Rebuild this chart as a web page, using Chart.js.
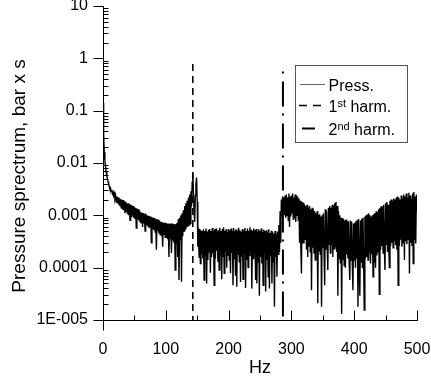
<!DOCTYPE html>
<html><head><meta charset="utf-8">
<style>html,body{margin:0;padding:0;background:#fff;}#wrap{width:431px;height:379px;}</style>
<script src="https://cdn.jsdelivr.net/npm/chart.js@4.4.1/dist/chart.umd.min.js"></script>
</head><body><div id="wrap"><canvas id="c" width="431" height="379"></canvas></div>
<script>
// ---- data (1 Hz bins) ----
const freqHz = [
  0,1,2,3,4,5,6,7,8,9,
  10,11,12,13,14,15,16,17,18,19,
  20,21,22,23,24,25,26,27,28,29,
  30,31,32,33,34,35,36,37,38,39,
  40,41,42,43,44,45,46,47,48,49,
  50,51,52,53,54,55,56,57,58,59,
  60,61,62,63,64,65,66,67,68,69,
  70,71,72,73,74,75,76,77,78,79,
  80,81,82,83,84,85,86,87,88,89,
  90,91,92,93,94,95,96,97,98,99,
  100,101,102,103,104,105,106,107,108,109,
  110,111,112,113,114,115,116,117,118,119,
  120,121,122,123,124,125,126,127,128,129,
  130,131,132,133,134,135,136,137,138,139,
  140,141,142,143,144,145,146,147,148,149,
  150,151,152,153,154,155,156,157,158,159,
  160,161,162,163,164,165,166,167,168,169,
  170,171,172,173,174,175,176,177,178,179,
  180,181,182,183,184,185,186,187,188,189,
  190,191,192,193,194,195,196,197,198,199,
  200,201,202,203,204,205,206,207,208,209,
  210,211,212,213,214,215,216,217,218,219,
  220,221,222,223,224,225,226,227,228,229,
  230,231,232,233,234,235,236,237,238,239,
  240,241,242,243,244,245,246,247,248,249,
  250,251,252,253,254,255,256,257,258,259,
  260,261,262,263,264,265,266,267,268,269,
  270,271,272,273,274,275,276,277,278,279,
  280,281,282,283,284,285,286,287,288,289,
  290,291,292,293,294,295,296,297,298,299,
  300,301,302,303,304,305,306,307,308,309,
  310,311,312,313,314,315,316,317,318,319,
  320,321,322,323,324,325,326,327,328,329,
  330,331,332,333,334,335,336,337,338,339,
  340,341,342,343,344,345,346,347,348,349,
  350,351,352,353,354,355,356,357,358,359,
  360,361,362,363,364,365,366,367,368,369,
  370,371,372,373,374,375,376,377,378,379,
  380,381,382,383,384,385,386,387,388,389,
  390,391,392,393,394,395,396,397,398,399,
  400,401,402,403,404,405,406,407,408,409,
  410,411,412,413,414,415,416,417,418,419,
  420,421,422,423,424,425,426,427,428,429,
  430,431,432,433,434,435,436,437,438,439,
  440,441,442,443,444,445,446,447,448,449,
  450,451,452,453,454,455,456,457,458,459,
  460,461,462,463,464,465,466,467,468,469,
  470,471,472,473,474,475,476,477,478,479,
  480,481,482,483,484,485,486,487,488,489,
  490,491,492,493,494,495,496,497,498,499,
  500
];
const pressSpectrum = [
  0.14,0.035,0.016,0.011,0.0085,0.0068,0.0058,0.005,0.0044,0.004,
  3.6e-3,3.2e-3,3.3e-3,2.9e-3,3.0e-3,2.6e-3,2.8e-3,2.4e-3,2.6e-3,2.1e-3,
  2.4e-3,1.8e-3,2.3e-3,1.7e-3,2.2e-3,1.6e-3,2.1e-3,1.5e-3,2.0e-3,1.4e-3,
  2.0e-3,1.3e-3,1.95e-3,1.25e-3,1.85e-3,1.1e-3,1.8e-3,1.2e-3,1.7e-3,1.05e-3,
  1.7e-3,1.0e-3,1.65e-3,8.0e-4,1.6e-3,9.5e-4,1.55e-3,1.0e-3,1.5e-3,9.0e-4,
  1.42e-3,8.8e-4,1.4e-3,5.7e-4,1.35e-3,8.5e-4,1.3e-3,8.0e-4,1.25e-3,7.5e-4,
  1.15e-3,7.2e-4,1.12e-3,6.0e-4,1.1e-3,7.0e-4,1.05e-3,5.0e-4,1.08e-3,6.8e-4,
  1.0e-3,6.2e-4,9.8e-4,5.8e-4,9.6e-4,6.0e-4,9.5e-4,3.0e-4,9.2e-4,5.5e-4,
  9.0e-4,5.2e-4,8.8e-4,4.8e-4,8.6e-4,2.2e-4,8.4e-4,5.0e-4,8.2e-4,4.5e-4,
  7.8e-4,4.3e-4,7.5e-4,4.0e-4,7.4e-4,2.5e-4,7.2e-4,4.2e-4,7.2e-4,3.8e-4,
  7.2e-4,3.7e-4,7.0e-4,3.5e-4,7.0e-4,1.6e-4,6.8e-4,3.6e-4,7.0e-4,1.9e-4,
  7.0e-4,3.3e-4,6.8e-4,3.0e-4,6.6e-4,9.0e-5,6.8e-4,2.8e-4,7.2e-4,1.6e-4,
  8.5e-4,5.8e-5,9.0e-4,3.5e-4,1.0e-3,5.4e-5,1.1e-3,4.0e-4,1.25e-3,5.0e-4,
  1.5e-3,5.5e-4,1.7e-3,6.0e-4,1.9e-3,6.0e-4,2.2e-3,6.5e-4,2.5e-3,7.0e-4,
  2.9e-3,1.5e-3,4.3e-3,6.5e-3,2.8e-3,1.2e-3,7.5e-4,2.4e-3,4.0e-3,5.3e-3,
  1.8e-3,2.5e-4,5.8e-4,1.6e-4,5.5e-4,1.2e-4,5.2e-4,1.8e-4,5.0e-4,1.5e-4,
  5.4e-4,5.8e-5,5.0e-4,1.7e-4,5.6e-4,5.0e-5,4.9e-4,1.4e-4,5.3e-4,2.0e-4,
  5.5e-4,8.0e-5,5.0e-4,1.6e-4,5.7e-4,1.9e-4,5.1e-4,4.6e-5,5.4e-4,1.5e-4,
  5.6e-4,2.1e-4,4.9e-4,1.3e-4,5.2e-4,9.0e-5,5.8e-4,1.8e-4,5.0e-4,6.0e-5,
  5.5e-4,1.6e-4,5.9e-4,7.8e-5,5.1e-4,2.0e-4,5.4e-4,1.0e-4,4.8e-4,1.7e-4,
  5.5e-4,1.4e-4,5.2e-4,7.8e-5,5.6e-4,1.9e-4,5.0e-4,4.6e-5,5.7e-4,1.5e-4,
  5.1e-4,7.0e-5,5.4e-4,4.3e-5,5.0e-4,1.8e-4,5.8e-4,1.3e-4,5.2e-4,5.3e-5,
  4.9e-4,1.6e-4,5.5e-4,6.0e-5,5.3e-4,1.9e-4,5.7e-4,4.1e-5,5.0e-4,1.4e-4,
  5.6e-4,1.0e-4,5.1e-4,1.7e-4,5.9e-4,2.1e-4,5.3e-4,4.0e-5,5.0e-4,1.5e-4,
  5.6e-4,1.8e-4,5.2e-4,5.8e-5,5.5e-4,5.0e-5,4.9e-4,1.3e-4,5.4e-4,2.9e-5,
  5.1e-4,1.6e-4,5.6e-4,1.2e-4,4.8e-4,4.6e-5,5.3e-4,1.9e-4,5.0e-4,3.5e-5,
  5.2e-4,1.4e-4,4.7e-4,6.7e-5,5.4e-4,4.0e-5,4.6e-4,1.7e-4,5.1e-4,5.0e-5,
  4.8e-4,1.3e-4,4.5e-4,1.8e-5,5.0e-4,1.6e-4,4.4e-4,6.7e-5,4.9e-4,1.8e-4,
  6.5e-4,2.0e-4,1.2e-3,3.0e-4,2.0e-3,1.0e-3,2.3e-3,1.3e-3,2.2e-3,1.0e-3,
  2.4e-3,9.0e-4,2.5e-3,1.0e-3,2.2e-3,8.0e-4,2.6e-3,6.0e-4,2.3e-3,9.5e-4,
  2.4e-3,1.1e-3,2.6e-3,8.5e-4,2.2e-3,9.0e-4,2.5e-3,7.5e-4,2.4e-3,1.0e-3,
  2.3e-3,8.0e-4,2.1e-3,3.0e-4,1.9e-3,2.5e-4,7.7e-5,1.8e-3,2.9e-4,1.7e-3,
  2.9e-4,1.6e-3,3.5e-4,1.5e-3,2.2e-4,1.6e-3,1.6e-4,1.4e-3,2.5e-4,1.5e-3,
  2.0e-4,1.3e-3,3.7e-5,1.4e-3,2.4e-4,1.3e-3,1.9e-4,1.2e-3,1.4e-4,1.1e-3,
  2.3e-4,1.2e-3,2.1e-5,1.0e-3,2.1e-4,1.05e-3,1.8e-4,9.5e-4,1.8e-5,1.0e-3,
  2.4e-4,1.1e-3,2.0e-4,4.6e-5,1.3e-3,2.2e-4,1.2e-3,2.6e-4,9.0e-5,1.4e-3,
  2.8e-4,1.5e-3,1.9e-4,1.4e-3,2.7e-4,1.6e-3,1.6e-4,1.5e-3,2.3e-4,1.7e-3,
  2.5e-4,1.8e-3,2.0e-4,1.5e-3,2.9e-5,1.2e-3,1.5e-4,1.0e-3,1.2e-4,9.0e-4,
  1.3e-5,8.8e-4,1.4e-4,8.5e-4,1.1e-4,8.0e-4,1.0e-4,8.3e-4,1.8e-4,7.8e-4,
  1.5e-4,7.5e-4,1.2e-4,5.8e-5,8.0e-4,1.4e-4,7.6e-4,1.1e-4,3.7e-5,7.0e-4,
  1.4e-4,7.2e-4,1.0e-4,7.8e-4,1.5e-4,8.2e-4,1.8e-5,8.5e-4,1.2e-4,2.9e-5,
  8.0e-4,1.3e-4,8.6e-4,1.0e-4,9.0e-4,1.4e-4,1.55e-5,9.5e-4,1.5e-4,1.0e-3,
  1.6e-4,1.05e-3,1.4e-4,1.1e-3,2.0e-4,1.0e-3,1.2e-4,9.5e-4,1.8e-4,1.0e-3,
  6.7e-5,1.05e-3,1.3e-4,1.1e-3,1.0e-4,1.2e-3,1.7e-4,1.15e-3,2.0e-4,1.3e-3,
  3.1e-5,1.4e-3,2.2e-4,1.5e-3,2.6e-4,1.45e-3,1.9e-4,1.6e-3,2.4e-4,9.0e-5,
  1.7e-3,2.8e-4,1.8e-3,2.0e-4,1.6e-3,2.5e-4,1.0e-4,1.9e-3,2.6e-4,2.0e-3,
  3.0e-4,1.9e-3,2.4e-4,2.1e-3,3.2e-4,2.0e-3,2.7e-4,2.2e-3,2.2e-4,2.3e-3,
  4.6e-5,2.2e-3,2.6e-4,2.0e-3,3.4e-4,2.4e-3,2.5e-4,2.1e-3,3.0e-4,2.5e-3,
  1.4e-4,2.3e-3,3.2e-4,2.6e-3,2.8e-4,2.2e-3,3.5e-4,2.7e-3,7.7e-5,2.4e-3,
  3.0e-4,2.1e-3,2.6e-4,2.6e-3,1.2e-4,2.8e-3,3.4e-4,2.3e-3,2.9e-4,2.5e-3,
  1.2e-3
];
const harm1Freq = 143, harm1Top = 0.78;
const harm2Freq = 286.5, harm2Top = 0.56;
const yMin = 1e-5, yMax = 10;
const xMin = 0, xMax = 500;
const yTickValues = [1e-5, 1e-4, 1e-3, 1e-2, 1e-1, 1, 10];
const yTickLabels = ['1E-005', '0.0001', '0.001', '0.01', '0.1', '1', '10'];
const yMinorFactors = [2, 3, 4, 5, 6, 7, 8, 9];
const xTickValues = [0, 100, 200, 300, 400, 500];
const xMinorValues = [50, 150, 250, 350, 450];
const xTitle = 'Hz';
const yTitle = 'Pressure sprectrum, bar x s';

const FONT = '"Liberation Sans", Arial, sans-serif';

const overlay = {
  id: 'overlay',
  afterDraw(chart) {
    const { ctx, chartArea: ca, scales: { x, y } } = chart;
    const ln = (x1, y1, x2, y2) => { ctx.beginPath(); ctx.moveTo(x1, y1); ctx.lineTo(x2, y2); ctx.stroke(); };
    ctx.save();
    ctx.strokeStyle = '#000';
    ctx.lineWidth = 1;
    ctx.setLineDash([]);
    const L = Math.round(ca.left) + 0.5, B = Math.round(ca.bottom) + 0.5;
    yTickValues.forEach(v => { const py = Math.round(y.getPixelForValue(v)) + 0.5; ln(L - 10, py, L, py); });
    yTickValues.slice(0, -1).forEach(d => {
      yMinorFactors.forEach(k => { const py = Math.round(y.getPixelForValue(d * k)) + 0.5; ln(L, py, L + 5, py); });
    });
    xTickValues.forEach(v => { const px = Math.round(x.getPixelForValue(v)) + 0.5; ln(px, B, px, B - 10); });
    ln(L, B, L, B + 10);
    xMinorValues.forEach(v => { const px = Math.round(x.getPixelForValue(v)) + 0.5; ln(px, B, px, B - 5); });

    ctx.fillStyle = '#000';
    ctx.textAlign = 'center';
    ctx.textBaseline = 'middle';
    ctx.font = '18px ' + FONT;
    ctx.fillText(xTitle, (ca.left + ca.right) / 2, 368);
    ctx.save();
    ctx.translate(20, 176);
    ctx.rotate(-Math.PI / 2);
    ctx.font = '19px ' + FONT;
    ctx.fillText(yTitle, 0, 0);
    ctx.restore();

    const bx = 295.5, by = 65.5, bw = 112, bh = 77;
    ctx.fillStyle = '#fff';
    ctx.fillRect(bx, by, bw, bh);
    ctx.strokeStyle = '#555';
    ctx.strokeRect(bx, by, bw, bh);
    const ds = chart.data.datasets;
    const rows = [84.5, 105.5, 128.5];
    const base = [91, 112, 135];
    ctx.strokeStyle = '#666'; ctx.lineWidth = 1; ctx.setLineDash([]);
    ln(300, rows[0], 325, rows[0]);
    ctx.strokeStyle = '#000'; ctx.lineWidth = 1.5; ctx.setLineDash([8, 6]);
    ln(299, rows[1], 322, rows[1]);
    ctx.lineWidth = 2; ctx.setLineDash([]);
    ln(302, rows[2], 315, rows[2]);
    ctx.fillStyle = '#000';
    ctx.textAlign = 'left';
    ctx.textBaseline = 'alphabetic';
    const tx = 328.5;
    ctx.font = '16px ' + FONT;
    ctx.fillText(ds[0].label, tx, base[0]);
    [[1, '1', 'st', ' harm.'], [2, '2', 'nd', ' harm.']].forEach(([i, a, sup, rest]) => {
      let xx = tx;
      ctx.font = '16px ' + FONT;
      ctx.fillText(a, xx, base[i]); xx += ctx.measureText(a).width;
      ctx.font = '11px ' + FONT;
      ctx.fillText(sup, xx, base[i] - 5.5); xx += ctx.measureText(sup).width;
      ctx.font = '16px ' + FONT;
      ctx.fillText(rest, xx, base[i]);
    });
    ctx.restore();
  }
};

const pressData = freqHz.map((f, i) => ({ x: f, y: pressSpectrum[i] }));
const harm1Data = [{ x: harm1Freq, y: harm1Top }, { x: harm1Freq, y: yMin }];
const harm2Data = [{ x: harm2Freq, y: harm2Top }, { x: harm2Freq, y: yMin }];

new Chart(document.getElementById('c'), {
  type: 'line',
  data: {
    datasets: [
      { label: 'Press.', data: pressData, borderColor: '#000', borderWidth: 1.4, pointRadius: 0, tension: 0, fill: false },
      { label: '1st harm.', data: harm1Data, borderColor: '#000', borderWidth: 1.6, borderDash: [7, 5], pointRadius: 0, fill: false },
      { label: '2nd harm.', data: harm2Data, borderColor: '#000', borderWidth: 2, borderDash: [25, 7, 2, 8], borderDashOffset: 32, pointRadius: 0, fill: false }
    ]
  },
  options: {
    responsive: false,
    animation: false,
    devicePixelRatio: 1,
    layout: { padding: { left: 0, right: 14, top: 6, bottom: 0 } },
    plugins: { legend: { display: false }, tooltip: { enabled: false } },
    scales: {
      x: {
        type: 'linear', min: xMin, max: xMax,
        afterBuildTicks: s => { s.ticks = xTickValues.map(v => ({ value: v })); },
        afterFit: s => { s.height = 59; s.paddingLeft = 0; s.paddingRight = 0; },
        grid: { display: false, drawTicks: false },
        border: { display: true, color: '#000', width: 1 },
        ticks: { color: '#000', font: { family: FONT, size: 16 }, padding: 20, maxRotation: 0, autoSkip: false }
      },
      y: {
        type: 'logarithmic', min: yMin, max: yMax,
        afterBuildTicks: s => { s.ticks = yTickValues.map(v => ({ value: v })); },
        afterFit: s => { s.width = 103; s.paddingTop = 0; s.paddingBottom = 0; },
        grid: { display: false, drawTicks: false },
        border: { display: true, color: '#000', width: 1 },
        ticks: {
          color: '#000', font: { family: FONT, size: 16 }, padding: 15, autoSkip: false,
          callback: (v) => { const i = yTickValues.findIndex(t => Math.abs(Math.log10(t) - Math.log10(v)) < 1e-6); return i >= 0 ? yTickLabels[i] : ''; }
        }
      }
    }
  },
  plugins: [overlay]
});
</script>
</body></html>
